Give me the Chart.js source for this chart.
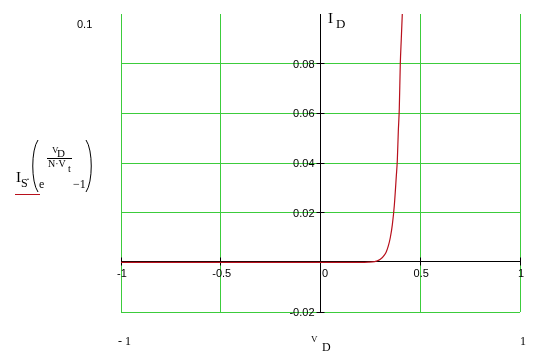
<!DOCTYPE html>
<html>
<head>
<meta charset="utf-8">
<script src="https://cdn.jsdelivr.net/npm/chart.js@4"></script>
<style>
  body { margin: 0; background: #fff; }
  #wrap { position: relative; width: 540px; height: 353px; }
</style>
</head>
<body>
<div id="wrap"><canvas id="diodeChart" width="540" height="353"></canvas></div>
<script>
// diode current I_D vs V_D
const vd = [-1, -0.5, 0, 0.1, 0.2, 0.24, 0.26, 0.28, 0.3, 0.32, 0.33, 0.34, 0.35, 0.36, 0.37, 0.38, 0.385, 0.39, 0.395, 0.4, 0.405, 0.41];
const id = [0, 0, 0, 0, 0.00002, 0.0001, 0.0002, 0.0005, 0.0012, 0.0029, 0.0043, 0.0066, 0.0100, 0.0151, 0.0229, 0.0347, 0.041, 0.0527, 0.062, 0.080, 0.090, 0.100];

const xTicks = [-1, -0.5, 0, 0.5, 1];
const xTickLabels = ["-1", "-0.5", "0", "0.5", "1"];
const yTicks = [-0.02, 0.02, 0.04, 0.06, 0.08];
const yTickLabels = ["-0.02", "0.02", "0.04", "0.06", "0.08"];

const GREEN = "#3ccc3c";
const RED = "#b8101c";
const SANS = '"Liberation Sans", Arial, sans-serif';
const SERIF = '"Liberation Serif", "Times New Roman", serif';

function hideAt(vals) {
  return function (c) {
    if (!c.tick) return GREEN;
    for (const v of vals) if (Math.abs(c.tick.value - v) < 1e-9) return "rgba(0,0,0,0)";
    return GREEN;
  };
}

function txt(ctx, s, x, y, size, family, align) {
  ctx.font = size + "px " + family;
  ctx.textAlign = align || "left";
  ctx.textBaseline = "alphabetic";
  ctx.fillText(s, x, y);
}

// mathcad style axes through the origin + labels
const mathcadAxes = {
  id: "mathcadAxes",
  beforeDatasetsDraw(chart) {
    const { ctx, chartArea: a, scales: { x, y } } = chart;
    const x0 = Math.floor(x.getPixelForValue(0)) + 0.5;
    // axis row sits just above the trace row, like mathcad draws it
    const y0 = Math.floor(y.getPixelForValue(0)) - 0.5;
    ctx.save();
    ctx.strokeStyle = "#000";
    ctx.lineWidth = 1;
    ctx.beginPath();
    ctx.moveTo(a.left, y0);
    ctx.lineTo(a.right + 1, y0);
    ctx.moveTo(x0, a.top);
    ctx.lineTo(x0, a.bottom + 1);
    xTicks.forEach(function (v) {
      if (v === 0) return;
      const px = Math.floor(x.getPixelForValue(v)) + 0.5;
      ctx.moveTo(px, y0 - 4);
      ctx.lineTo(px, y0 + 4);
    });
    yTicks.forEach(function (v) {
      const py = Math.floor(y.getPixelForValue(v)) + 0.5;
      ctx.moveTo(x0 - 4, py);
      ctx.lineTo(x0 + 4, py);
    });
    ctx.stroke();
    ctx.restore();
  },
  afterDraw(chart) {
    const { ctx, scales: { x, y } } = chart;
    const x0 = x.getPixelForValue(0);
    const y0 = y.getPixelForValue(0);
    ctx.save();
    ctx.fillStyle = "#000";

    // tick labels
    xTicks.forEach(function (v, i) {
      const px = x.getPixelForValue(v);
      if (v === 0) txt(ctx, xTickLabels[i], px + 1.5, y0 + 15, 11, SANS, "left");
      else txt(ctx, xTickLabels[i], px + 1, y0 + 15, 11, SANS, "center");
    });
    yTicks.forEach(function (v, i) {
      const py = y.getPixelForValue(v);
      txt(ctx, yTickLabels[i], x0 - 6, py + 4, 11, SANS, "right");
    });

    // range labels
    txt(ctx, "0.1", 77, 28, 11, SANS);
    txt(ctx, "- 1", 118, 345, 12, SERIF);
    txt(ctx, "1", 520, 345, 12, SERIF);

    // axis names
    txt(ctx, "V", 311, 342, 9, SERIF);
    txt(ctx, "D", 322, 351, 12, SERIF);
    txt(ctx, "I", 328, 23, 15, SERIF);
    txt(ctx, "D", 336, 28, 13, SERIF);

    // trace legend: I_S·(e^(V_D/(N·V_t)) − 1)
    txt(ctx, "I", 16, 182, 15, SERIF);
    txt(ctx, "S", 21, 187, 12, SERIF);
    txt(ctx, "·", 26, 183, 12, SERIF);
    txt(ctx, "e", 39, 188, 12, SERIF);
    txt(ctx, "V", 52, 153, 9, SERIF);
    txt(ctx, "D", 57, 157, 11, SERIF);
    txt(ctx, "N·V", 48, 167, 10, SERIF);
    txt(ctx, "t", 68, 172, 10, SERIF);
    txt(ctx, "\u22121", 73, 188, 12, SERIF);
    ctx.strokeStyle = "#000";
    ctx.lineWidth = 1;
    ctx.beginPath();
    ctx.moveTo(47, 158.5);
    ctx.lineTo(72, 158.5);
    // big parens
    ctx.moveTo(38, 140);
    ctx.bezierCurveTo(31, 150, 31, 182, 38, 192);
    ctx.moveTo(86, 140);
    ctx.bezierCurveTo(93, 150, 93, 182, 86, 192);
    ctx.stroke();
    ctx.strokeStyle = RED;
    ctx.beginPath();
    ctx.moveTo(15, 194.5);
    ctx.lineTo(40, 194.5);
    ctx.stroke();
    ctx.restore();
  }
};

const ctx = document.getElementById("diodeChart").getContext("2d");
new Chart(ctx, {
  type: "scatter",
  data: {
    datasets: [
      {
        data: vd.map(function (v, i) { return { x: v, y: id[i] }; }),
        showLine: true,
        borderColor: RED,
        borderWidth: 1.2,
        pointRadius: 0,
        cubicInterpolationMode: "monotone",
        fill: false
      }
    ]
  },
  options: {
    responsive: false,
    animation: false,
    events: [],
    layout: { padding: { left: 121, right: 20, top: 14, bottom: 41 } },
    plugins: { legend: { display: false }, tooltip: { enabled: false } },
    scales: {
      x: {
        type: "linear",
        min: -1,
        max: 1,
        ticks: { display: false, stepSize: 0.5 },
        border: { display: false },
        grid: { color: hideAt([0]), drawTicks: false, lineWidth: 1 }
      },
      y: {
        type: "linear",
        min: -0.02,
        max: 0.1,
        ticks: { display: false, stepSize: 0.02 },
        border: { display: false },
        grid: { color: hideAt([0, 0.1]), drawTicks: false, lineWidth: 1 }
      }
    }
  },
  plugins: [mathcadAxes]
});
</script>
</body>
</html>
